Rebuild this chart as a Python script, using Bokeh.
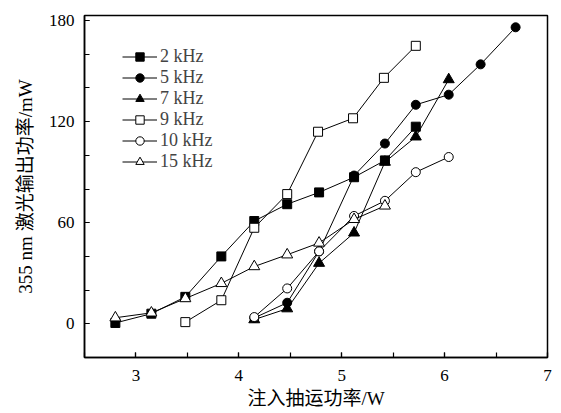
from bokeh.plotting import figure
from bokeh.models import FixedTicker, Legend, LegendItem, Range1d
from bokeh.embed import file_html
from bokeh.resources import INLINE

# ---- data ----
labels = ["2 kHz", "5 kHz", "7 kHz", "9 kHz", "10 kHz", "15 kHz"]
x_2k = [2.8, 3.15, 3.48, 3.83, 4.15, 4.47, 4.78, 5.12, 5.42, 5.72]
y_2k = [0.5, 6, 16, 40, 61, 71, 78, 87, 97, 117]
x_5k = [4.15, 4.47, 4.78, 5.12, 5.42, 5.72, 6.04, 6.35, 6.69]
y_5k = [3.5, 12.5, 43, 88, 107, 130, 136, 154, 176]
x_7k = [4.15, 4.47, 4.78, 5.12, 5.42, 5.72, 6.04]
y_7k = [2.5, 9, 36, 54, 96, 111, 145]
x_9k = [3.48, 3.83, 4.15, 4.47, 4.77, 5.11, 5.41, 5.72]
y_9k = [1, 14, 57, 77, 114, 122, 146, 165]
x_10k = [4.15, 4.47, 4.78, 5.12, 5.42, 5.72, 6.04]
y_10k = [4, 21, 43, 64, 73, 90, 99]
x_15k = [2.8, 3.15, 3.48, 3.83, 4.15, 4.47, 4.78, 5.12, 5.42]
y_15k = [3.6, 6.5, 15, 24, 34, 41, 48, 62, 70]
x_ticks = [3, 4, 5, 6, 7]
y_ticks = [0, 60, 120, 180]

series = [
    (labels[0], x_2k, y_2k, "square", "black"),
    (labels[1], x_5k, y_5k, "circle", "black"),
    (labels[2], x_7k, y_7k, "triangle", "black"),
    (labels[3], x_9k, y_9k, "square", "white"),
    (labels[4], x_10k, y_10k, "circle", "white"),
    (labels[5], x_15k, y_15k, "triangle", "white"),
]
sizes = {"square": 9, "circle": 9, "triangle": 11}

SERIF = "'Liberation Serif', 'Noto Sans CJK SC'"

p = figure(frame_width=463, frame_height=342, output_backend="svg", toolbar_location=None,
           x_range=Range1d(2.5, 7), y_range=Range1d(-20, 183),
           min_border_left=84, min_border_right=14, min_border_top=15, min_border_bottom=54)
p.grid.visible = False
p.outline_line_color = "black"
p.outline_line_width = 1.5
p.background_fill_color = "white"

p.xaxis.ticker = FixedTicker(ticks=x_ticks, minor_ticks=[2.5 + 0.5 * i for i in range(10)])
p.yaxis.ticker = FixedTicker(ticks=y_ticks, minor_ticks=[-20 + 20 * i for i in range(11)])
for ax in (p.xaxis, p.yaxis):
    ax.axis_line_color = "black"
    ax.axis_line_width = 1.5
    ax.major_tick_in = 5
    ax.major_tick_out = 0
    ax.minor_tick_in = 5
    ax.minor_tick_out = 0
    ax.major_tick_line_color = "black"
    ax.minor_tick_line_color = "black"
    ax.major_tick_line_width = 1.2
    ax.minor_tick_line_width = 1.2
    ax.major_label_text_font = SERIF
    ax.major_label_text_font_size = "17px"
    ax.major_label_text_color = "black"
    ax.axis_label_text_font = SERIF
    ax.axis_label_text_font_size = "19px"
    ax.axis_label_text_font_style = "normal"
    ax.axis_label_text_color = "black"
p.xaxis.major_label_standoff = 12
p.yaxis.major_label_standoff = 10
p.xaxis.axis_label = "注入抽运功率/W"
p.yaxis.axis_label = "355 nm 激光输出功率/mW"
p.xaxis.axis_label_standoff = 4
p.yaxis.axis_label_standoff = 10

items = []
for label, xs, ys, marker, fill in series:
    ln = p.line(xs, ys, line_color="black", line_width=1)
    sc = p.scatter(xs, ys, marker=marker, size=sizes[marker], fill_color=fill,
                   line_color="black", line_width=1)
    items.append(LegendItem(label=label, renderers=[ln, sc]))

legend = Legend(items=items, location=(38, 185), margin=0, padding=0,
                glyph_width=35, glyph_height=21, label_height=21, spacing=0,
                label_standoff=3, border_line_color=None, background_fill_alpha=0,
                label_text_font=SERIF, label_text_font_size="18px")
p.add_layout(legend)

open("out.html", "w").write(file_html(p, INLINE))
